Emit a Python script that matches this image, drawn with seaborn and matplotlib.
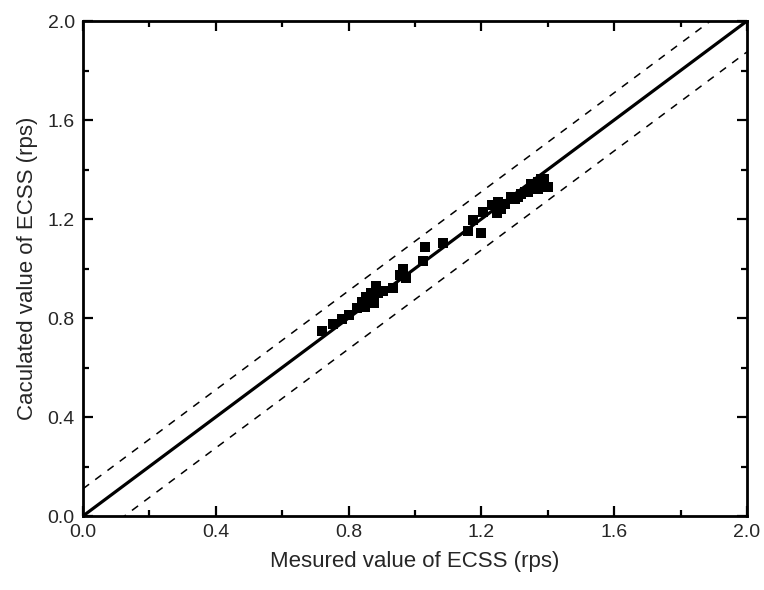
import numpy as np
import pandas as pd
import matplotlib
matplotlib.use("Agg")
import matplotlib.pyplot as plt
from matplotlib.ticker import MultipleLocator
import seaborn as sns

# measured vs calculated ECSS (rps)
measured = [0.719, 0.754, 0.779, 0.802, 0.824, 0.839, 0.849, 0.854, 0.869, 0.877,
            0.883, 0.905, 0.935, 0.955, 0.965, 0.973, 1.023, 1.031, 1.083, 1.160,
            1.175, 1.200, 1.206, 1.231, 1.246, 1.25, 1.26, 1.27, 1.29, 1.30,
            1.31, 1.32, 1.33, 1.34, 1.35, 1.35, 1.36, 1.37, 1.37, 1.38,
            1.38, 1.39, 1.40, 1.39, 0.86, 0.87, 0.89, 0.84]
calculated = [0.749, 0.775, 0.796, 0.812, 0.839, 0.866, 0.846, 0.886, 0.900, 0.861,
              0.929, 0.910, 0.920, 0.974, 1.000, 0.962, 1.032, 1.088, 1.104, 1.153,
              1.196, 1.145, 1.230, 1.257, 1.223, 1.27, 1.24, 1.26, 1.29, 1.28,
              1.29, 1.30, 1.31, 1.31, 1.32, 1.34, 1.33, 1.35, 1.32, 1.36,
              1.33, 1.34, 1.33, 1.36, 0.88, 0.90, 0.90, 0.86]

upper_off = 0.11
lower_off = -0.125

df = pd.DataFrame({'measured': measured, 'calculated': calculated})

sns.set_style("ticks")
plt.rcParams['font.family'] = ['Liberation Sans', 'DejaVu Sans']

fig = plt.figure(figsize=(7.64, 5.90), dpi=100)
ax = fig.add_axes([0.1086, 0.1254, 0.8691, 0.839])

# reference lines
xs = np.array([0.0, 2.0])
ax.plot(xs, xs, color='black', lw=2.3, zorder=2)
ax.plot(xs, xs + upper_off, color='black', lw=1.1, ls=(0, (5, 5)), zorder=2)
ax.plot(xs, xs + lower_off, color='black', lw=1.1, ls=(0, (5, 5)), zorder=2)

sns.scatterplot(data=df, x='measured', y='calculated', marker='s', s=60,
                color='black', edgecolor='black', linewidth=0, ax=ax, zorder=3)

ax.set_xlim(0, 2.0)
ax.set_ylim(0, 2.0)
ax.xaxis.set_major_locator(MultipleLocator(0.4))
ax.yaxis.set_major_locator(MultipleLocator(0.4))
ax.xaxis.set_minor_locator(MultipleLocator(0.2))
ax.yaxis.set_minor_locator(MultipleLocator(0.2))
ax.xaxis.set_major_formatter(matplotlib.ticker.FormatStrFormatter('%.1f'))
ax.yaxis.set_major_formatter(matplotlib.ticker.FormatStrFormatter('%.1f'))
ax.tick_params(which='both', direction='in', top=True, right=True,
               width=1.6, labelsize=14, color='black')
ax.tick_params(which='major', length=7, pad=6)
ax.tick_params(which='minor', length=4)
for sp in ax.spines.values():
    sp.set_linewidth(2.0)
    sp.set_color('black')

ax.set_xlabel('Mesured value of ECSS (rps)', fontsize=16, labelpad=7)
ax.set_ylabel('Caculated value of ECSS (rps)', fontsize=16, labelpad=7)

fig.savefig('out.png', dpi=100)
